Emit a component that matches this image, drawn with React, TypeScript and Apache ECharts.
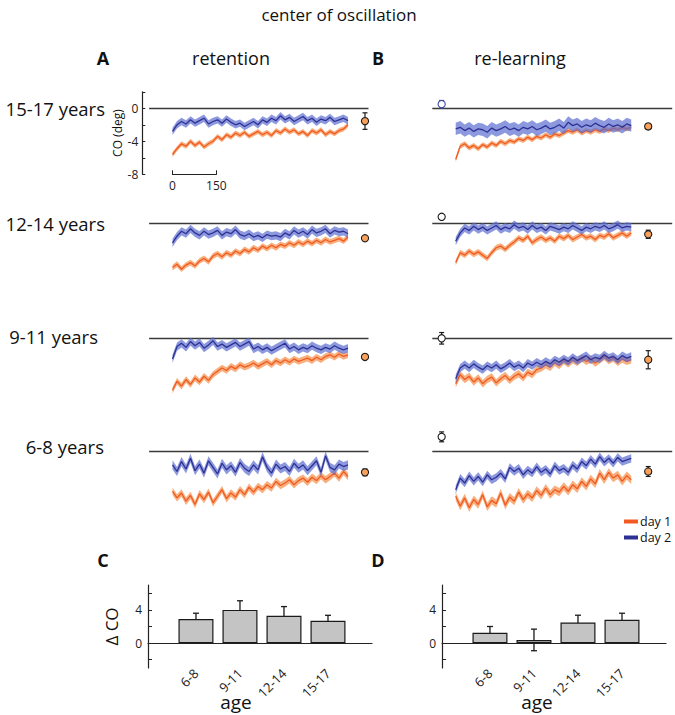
import React, { useEffect, useRef } from "react";
import * as echarts from "echarts";

// ---------- data ----------
const ageGroups = ["6-8", "9-11", "12-14", "15-17"];
const rowLabels = ["15-17 years", "12-14 years", "9-11 years", "6-8 years"];
const nTrials = 600;
const scaleBarTicks = [0, 150];

// retention (A), rows top→bottom: 15-17, 12-14, 9-11, 6-8
const ret15Day1 = [-5.6,-4.9,-4.3,-4.6,-4.0,-4.5,-4.1,-4.7,-4.3,-4.0,-3.4,-3.8,-3.2,-3.5,-3.0,-3.3,-2.9,-3.4,-3.1,-2.8,-3.2,-2.9,-3.3,-2.7,-3.0,-2.5,-2.9,-2.6,-3.1,-2.8,-3.3,-2.7,-3.0,-2.6,-3.2,-2.8,-3.1,-2.7,-2.5,-2.0];
const ret15Day2 = [-2.8,-2.0,-1.6,-1.9,-1.4,-1.8,-1.5,-1.2,-1.9,-1.6,-1.4,-1.8,-1.3,-1.7,-2.0,-1.8,-2.2,-1.9,-1.6,-2.0,-1.4,-1.7,-1.2,-1.5,-0.9,-1.4,-1.1,-1.6,-1.3,-1.0,-1.5,-1.2,-1.7,-1.3,-1.5,-1.1,-1.6,-1.4,-1.2,-1.5];
const ret12Day1 = [-5.4,-5.0,-5.6,-5.1,-4.8,-5.2,-4.6,-4.3,-4.7,-4.0,-3.7,-4.1,-3.6,-3.9,-3.4,-3.7,-3.2,-3.5,-3.0,-3.3,-2.8,-3.1,-2.7,-3.0,-2.6,-2.8,-2.4,-2.7,-2.3,-2.6,-2.2,-2.5,-2.1,-2.4,-2.0,-2.3,-2.1,-1.9,-2.2,-1.7];
const ret12Day2 = [-2.4,-1.6,-1.0,-1.3,-0.7,-1.2,-1.5,-1.0,-1.4,-1.2,-0.9,-1.5,-1.1,-1.3,-0.8,-1.4,-1.6,-1.3,-1.7,-1.5,-1.8,-1.4,-1.6,-1.5,-1.7,-1.2,-1.5,-0.9,-1.3,-1.0,-1.4,-0.8,-1.2,-1.0,-0.7,-1.3,-0.9,-1.1,-1.0,-1.3];
const ret9Day1 = [-6.3,-5.2,-5.8,-5.0,-5.6,-4.8,-5.3,-4.6,-5.1,-4.4,-4.0,-3.6,-3.9,-3.4,-3.7,-3.2,-3.5,-3.3,-3.0,-3.4,-3.1,-2.8,-3.2,-2.7,-3.0,-2.6,-2.9,-2.5,-2.8,-2.6,-2.4,-2.7,-2.3,-2.6,-2.2,-2.0,-2.3,-1.9,-2.2,-2.0];
const ret9Day2 = [-2.5,-1.0,-0.6,-1.1,-0.4,-0.9,-0.5,-1.2,-0.8,-0.3,-1.0,-0.7,-1.1,-0.8,-0.5,-1.0,-0.7,-0.4,-1.3,-1.0,-1.4,-1.1,-1.5,-1.2,-0.9,-0.6,-1.3,-1.0,-1.4,-1.1,-1.3,-0.9,-1.2,-1.4,-1.1,-1.3,-0.9,-1.2,-1.4,-1.2];
const ret6Day1 = [-4.8,-5.6,-5.0,-6.0,-5.3,-6.4,-5.1,-5.8,-4.9,-6.2,-5.4,-4.6,-5.7,-5.0,-5.5,-4.6,-5.2,-4.3,-4.9,-4.2,-4.6,-4.0,-4.4,-3.6,-4.1,-3.8,-3.4,-4.0,-3.5,-3.2,-3.7,-3.1,-3.5,-2.9,-3.4,-3.0,-2.6,-3.2,-2.4,-3.0];
const ret6Day2 = [-1.6,-2.4,-1.2,-2.1,-0.8,-2.3,-1.5,-2.6,-1.1,-1.9,-2.7,-1.4,-2.2,-1.7,-2.5,-1.3,-2.0,-2.4,-1.6,-2.2,-0.6,-1.9,-2.6,-1.5,-2.1,-1.8,-2.4,-1.4,-2.0,-1.6,-2.3,-1.7,-1.1,-2.5,-0.5,-1.9,-2.2,-1.5,-1.8,-1.6];

// re-learning (B)
const rel15Day1 = [-6.2,-4.6,-4.3,-4.8,-4.5,-4.9,-4.4,-4.7,-4.2,-4.5,-4.0,-4.3,-3.9,-4.1,-3.7,-3.9,-3.5,-3.8,-3.4,-3.6,-3.2,-3.5,-3.1,-3.3,-3.0,-2.7,-2.9,-2.6,-3.0,-2.7,-2.9,-2.6,-2.8,-2.5,-2.7,-2.4,-2.6,-2.3,-2.5,-2.3];
const rel15Day2 = [-2.5,-2.3,-2.7,-2.4,-2.8,-2.5,-2.6,-2.9,-2.4,-2.7,-2.5,-2.2,-2.6,-2.4,-2.7,-2.3,-2.5,-2.2,-2.6,-2.4,-2.1,-2.5,-2.3,-2.0,-2.4,-1.7,-2.1,-1.9,-2.3,-2.0,-2.2,-1.8,-2.1,-2.3,-1.9,-2.2,-2.0,-2.3,-1.9,-2.1];
const rel12Day1 = [-4.8,-3.6,-3.9,-3.4,-3.8,-3.5,-3.9,-4.3,-3.6,-3.0,-2.8,-3.2,-2.7,-2.3,-1.8,-2.1,-1.6,-2.4,-2.0,-1.7,-2.1,-1.8,-2.2,-1.6,-1.9,-1.5,-2.0,-1.7,-1.4,-1.8,-1.6,-2.0,-1.5,-1.7,-1.3,-1.8,-1.5,-1.2,-1.6,-1.2];
const rel12Day2 = [-2.2,-1.2,-0.6,-0.9,-0.4,-0.8,-0.5,-0.9,-0.6,-0.3,-0.8,-0.5,-0.7,-0.2,-0.6,-0.4,-0.8,-0.3,-0.7,-0.5,-0.9,-0.4,-0.6,-0.8,-0.5,-0.7,-0.3,-0.6,-0.9,-0.5,-0.7,-0.4,-0.6,-0.3,-0.7,-0.5,-0.2,-0.6,-0.4,-0.5];
const rel9Day1 = [-5.5,-4.4,-5.0,-4.6,-5.3,-4.8,-5.5,-5.0,-4.7,-5.4,-4.9,-4.5,-5.1,-4.6,-4.3,-4.8,-4.1,-4.4,-3.8,-3.6,-3.2,-3.5,-2.9,-3.3,-2.7,-3.1,-2.6,-2.9,-2.4,-2.8,-2.5,-3.0,-2.6,-2.2,-2.7,-2.4,-2.9,-2.5,-2.8,-2.6];
const rel9Day2 = [-4.9,-3.6,-3.2,-3.6,-3.1,-3.5,-3.8,-3.3,-3.6,-3.2,-3.7,-3.4,-3.0,-3.5,-3.2,-3.6,-3.0,-3.3,-2.9,-3.2,-2.8,-3.1,-2.6,-2.9,-2.5,-2.8,-2.3,-2.7,-2.4,-2.1,-2.6,-2.3,-2.5,-2.0,-2.4,-2.2,-2.6,-2.1,-2.4,-2.2];
const rel6Day1 = [-5.4,-6.6,-5.6,-6.8,-5.8,-6.4,-5.2,-6.7,-5.9,-6.3,-5.0,-6.5,-5.5,-6.0,-4.9,-5.8,-5.1,-5.6,-4.7,-5.3,-4.4,-5.2,-4.6,-4.9,-4.2,-4.8,-4.0,-4.5,-3.6,-4.2,-3.3,-3.9,-2.6,-3.4,-2.5,-3.2,-2.8,-3.6,-2.9,-3.4];
const rel6Day2 = [-4.6,-3.2,-3.8,-2.9,-3.6,-3.0,-3.7,-2.8,-3.4,-3.1,-2.6,-3.3,-1.9,-2.4,-2.0,-2.8,-2.2,-2.6,-1.8,-2.5,-2.1,-2.7,-1.7,-2.3,-2.0,-2.5,-1.6,-2.1,-1.2,-1.7,-0.9,-1.5,-0.6,-1.3,-0.8,-1.4,-0.7,-1.2,-1.0,-0.8];

// band half-widths (SEM), rows top→bottom
const retSemDay1 = [0.3, 0.35, 0.4, 0.45];
const retSemDay2 = [0.45, 0.5, 0.5, 0.55];
const relSemDay1 = [0.3, 0.35, 0.45, 0.5];
const relSemDay2 = [0.75, 0.5, 0.5, 0.5];

// summary points (rows top→bottom)
const retSummaryMean = [-1.55, -1.85, -2.26, -2.5];
const retSummaryErr = [1.0, 0.3, 0.2, 0.4];
const relSummaryMean = [-2.2, -1.37, -2.6, -2.4];
const relSummaryErr = [0.3, 0.5, 1.1, 0.6];
const relBaselineMean = [0.5, 0.75, 0.0, 1.8];
const relBaselineErr = [0.45, 0.12, 0.7, 0.6];
const summaryTrial = 658;
const baselineTrial = -48;

// bar panels (ΔCO), order = ageGroups
const deltaRetention = [2.9, 4.0, 3.3, 2.7];
const deltaRetentionErr = [0.7, 1.1, 1.1, 0.65];
const deltaRelearn = [1.25, 0.38, 2.48, 2.8];
const deltaRelearnErr = [0.75, 1.3, 0.88, 0.8];

// ---------- style / layout ----------
const FONT = "'Open Sans', 'Noto Sans', sans-serif";
const ORANGE = "#F15A22";
const ORANGE_BAND = "rgba(246,150,84,0.75)";
const BLUE = "#2E3192";
const BLUE_BAND = "rgba(92,110,210,0.7)";
const U = 8.25;
const rowZeroY = [108.3, 223, 338.3, 451.7];
const cols = [
  { left: 149.1, width: 219.4, min: -80, max: 670 },
  { left: 432.3, width: 239.9, min: -80, max: 740 },
];

function tx(i: number, n: number) {
  return (i * nTrials) / (n - 1);
}

function bandSeries(g: number, vals: number[], sem: number, color: string, z: number) {
  const data = vals.map((v, i) => [tx(i, vals.length), v]);
  return {
    type: "custom",
    xAxisIndex: g,
    yAxisIndex: g,
    silent: true,
    z,
    data,
    renderItem: (params: any, api: any) => {
      if (params.dataIndex !== 0) return null;
      const up = data.map((d) => api.coord([d[0], d[1] + sem]));
      const lo = data.map((d) => api.coord([d[0], d[1] - sem])).reverse();
      return { type: "polygon", shape: { points: up.concat(lo) }, style: { fill: color } };
    },
  };
}

function lineSeries(g: number, name: string, vals: number[], color: string, z: number, withZero: boolean) {
  const s: any = {
    type: "line",
    name,
    xAxisIndex: g,
    yAxisIndex: g,
    data: vals.map((v, i) => [tx(i, vals.length), v]),
    symbol: "none",
    lineStyle: { color, width: 1.3 },
    itemStyle: { color },
    silent: true,
    z,
  };
  if (withZero) {
    s.markLine = {
      silent: true,
      symbol: "none",
      label: { show: false },
      lineStyle: { color: "#3a3a3a", width: 1.4, type: "solid" },
      data: [{ yAxis: 0 }],
      z: 1,
    };
  }
  return s;
}

function pointSeries(g: number, x: number, mean: number, err: number, fill: string, stroke: string) {
  return {
    type: "custom",
    xAxisIndex: g,
    yAxisIndex: g,
    silent: true,
    z: 10,
    data: [[x, mean, err]],
    renderItem: (params: any, api: any) => {
      const xv = api.value(0), m = api.value(1), e = api.value(2);
      const c = api.coord([xv, m]);
      const t = api.coord([xv, m + e]);
      const b = api.coord([xv, m - e]);
      const w = 2.5;
      const ls = { stroke, lineWidth: 1.2 };
      return {
        type: "group",
        children: [
          { type: "line", shape: { x1: t[0], y1: t[1], x2: b[0], y2: b[1] }, style: ls },
          { type: "line", shape: { x1: t[0] - w, y1: t[1], x2: t[0] + w, y2: t[1] }, style: ls },
          { type: "line", shape: { x1: b[0] - w, y1: b[1], x2: b[0] + w, y2: b[1] }, style: ls },
          { type: "circle", shape: { cx: c[0], cy: c[1], r: 3.6 }, style: { fill, stroke, lineWidth: 1.1 } },
        ],
      };
    },
  };
}

function errBarSeries(g: number, means: number[], errs: number[]) {
  return {
    type: "custom",
    xAxisIndex: g,
    yAxisIndex: g,
    silent: true,
    z: 1,
    data: means.map((m, i) => [i + 1, m, errs[i]]),
    renderItem: (params: any, api: any) => {
      const xv = api.value(0), m = api.value(1), e = api.value(2);
      const t = api.coord([xv, m + e]);
      const b = api.coord([xv, m - e]);
      const w = 3;
      const ls = { stroke: "#1a1a1a", lineWidth: 1.3 };
      return {
        type: "group",
        children: [
          { type: "line", shape: { x1: t[0], y1: t[1], x2: b[0], y2: b[1] }, style: ls },
          { type: "line", shape: { x1: t[0] - w, y1: t[1], x2: t[0] + w, y2: t[1] }, style: ls },
          { type: "line", shape: { x1: b[0] - w, y1: b[1], x2: b[0] + w, y2: b[1] }, style: ls },
        ],
      };
    },
  };
}

function buildOption() {
  const grids: any[] = [];
  const xAxes: any[] = [];
  const yAxes: any[] = [];
  const series: any[] = [];

  const retention = [
    [ret15Day1, ret15Day2],
    [ret12Day1, ret12Day2],
    [ret9Day1, ret9Day2],
    [ret6Day1, ret6Day2],
  ];
  const relearn = [
    [rel15Day1, rel15Day2],
    [rel12Day1, rel12Day2],
    [rel9Day1, rel9Day2],
    [rel6Day1, rel6Day2],
  ];

  for (let col = 0; col < 2; col++) {
    for (let row = 0; row < 4; row++) {
      const g = grids.length;
      const c = cols[col];
      grids.push({
        left: c.left,
        width: c.width,
        top: rowZeroY[row] - 2 * U,
        height: 10 * U,
        outerBoundsMode: "none",
      });
      xAxes.push({ gridIndex: g, type: "value", min: c.min, max: c.max, show: false });
      const showY = col === 0 && row === 0;
      yAxes.push({
        gridIndex: g,
        type: "value",
        min: -8,
        max: 2,
        interval: 2,
        show: showY,
        offset: showY ? 6.8 : 0,
        name: showY ? "CO (deg)" : "",
        nameLocation: "middle",
        nameGap: 14,
        nameRotate: 90,
        nameTextStyle: { fontFamily: FONT, fontSize: 12, color: "#111" },
        axisLine: { show: true, onZero: false, lineStyle: { color: "#222", width: 1.2 } },
        axisTick: { show: true, inside: true, length: 3, lineStyle: { color: "#222" } },
        axisLabel: {
          fontFamily: FONT,
          fontSize: 12,
          color: "#222",
          margin: 4,
          formatter: (v: number) => (v % 4 === 0 ? String(v) : ""),
        },
        splitLine: { show: false },
      });
      const d = col === 0 ? retention[row] : relearn[row];
      const sem1 = col === 0 ? retSemDay1[row] : relSemDay1[row];
      const sem2 = col === 0 ? retSemDay2[row] : relSemDay2[row];
      series.push(bandSeries(g, d[0], sem1, ORANGE_BAND, 2));
      series.push(lineSeries(g, "day 1", d[0], ORANGE, 3, true));
      series.push(bandSeries(g, d[1], sem2, BLUE_BAND, 4));
      series.push(lineSeries(g, "day 2", d[1], BLUE, 5, false));
      if (col === 0) {
        series.push(pointSeries(g, summaryTrial, retSummaryMean[row], retSummaryErr[row], "#F7A15C", "#1a1a1a"));
      } else {
        series.push(pointSeries(g, summaryTrial, relSummaryMean[row], relSummaryErr[row], "#F7A15C", "#1a1a1a"));
        series.push(
          pointSeries(g, baselineTrial, relBaselineMean[row], relBaselineErr[row], "#ffffff", row === 0 ? "#3b4aa0" : "#1a1a1a")
        );
      }
    }
  }

  // scale bar (0–150 trials) under panel A top
  {
    const g = grids.length;
    const span = (150 / nTrials) * 175.5;
    grids.push({ left: 172.5, width: span, top: 173.3, height: 1, outerBoundsMode: "none" });
    xAxes.push({
      gridIndex: g,
      type: "value",
      min: scaleBarTicks[0],
      max: scaleBarTicks[1],
      interval: 150,
      axisLine: { show: true, lineStyle: { color: "#222", width: 1.2 } },
      axisTick: { show: true, inside: true, length: 4, lineStyle: { color: "#222" } },
      axisLabel: { fontFamily: FONT, fontSize: 12, color: "#222", margin: 5 },
      splitLine: { show: false },
    });
    yAxes.push({ gridIndex: g, type: "value", show: false, min: 0, max: 1 });
  }

  // bar panels C and D
  const barDefs = [
    { left: 148, vals: deltaRetention, errs: deltaRetentionErr, name: "Δ CO" },
    { left: 442, vals: deltaRelearn, errs: deltaRelearnErr, name: "" },
  ];
  barDefs.forEach((b) => {
    const g = grids.length;
    grids.push({ left: b.left, width: 224, top: 585, height: 83, outerBoundsMode: "none" });
    xAxes.push({
      gridIndex: g,
      type: "value",
      min: -0.09,
      max: 5.0,
      axisLine: { show: true, onZero: true, lineStyle: { color: "#222", width: 1.2 } },
      axisTick: { show: false },
      axisLabel: {
        customValues: [1, 2, 3, 4],
        formatter: (v: number) => ageGroups[Math.round(v) - 1] || "",
        rotate: 45,
        margin: 3,
        fontFamily: FONT,
        fontSize: 13,
        color: "#222",
      },
      splitLine: { show: false },
    });
    yAxes.push({
      gridIndex: g,
      type: "value",
      min: -3,
      max: 7,
      name: b.name,
      nameLocation: "middle",
      nameGap: 28,
      nameRotate: 90,
      nameTextStyle: { fontFamily: FONT, fontSize: 17, color: "#111" },
      axisLine: { show: true, onZero: false, lineStyle: { color: "#222", width: 1.2 } },
      axisTick: { show: true, inside: true, length: 4, customValues: [-2, 0, 2, 4, 6], lineStyle: { color: "#222" } },
      axisLabel: { customValues: [0, 4], fontFamily: FONT, fontSize: 12, color: "#222", margin: 6 },
      splitLine: { show: false },
    });
    series.push(errBarSeries(g, b.vals, b.errs));
    series.push({
      type: "bar",
      xAxisIndex: g,
      yAxisIndex: g,
      barWidth: 35,
      silent: true,
      z: 2,
      data: b.vals.map((v, i) => [i + 1, v]),
      itemStyle: { color: "#C4C4C4", borderColor: "#1a1a1a", borderWidth: 1.2 },
    });
  });

  const txt = (x: number, y: number, s: string, size: number, opts: any = {}) => ({
    type: "text",
    x,
    y,
    style: {
      text: s,
      fontFamily: FONT,
      fontSize: size,
      fill: "#111",
      textAlign: opts.align || "center",
      textVerticalAlign: "middle",
      fontWeight: opts.bold ? "bold" : "normal",
    },
  });

  const rowLabelRight = [105, 105, 98, 104];
  const rowLabelY = [108, 223, 336, 446];

  return {
    animation: false,
    grid: grids,
    xAxis: xAxes,
    yAxis: yAxes,
    series,
    legend: {
      data: ["day 1", "day 2"],
      orient: "vertical",
      left: 619,
      top: 509,
      icon: "rect",
      itemWidth: 14,
      itemHeight: 4,
      itemGap: 1,
      textStyle: { fontFamily: FONT, fontSize: 12.5, lineHeight: 15, color: "#111", padding: [0, 0, 0, -3] },
      selectedMode: false,
    },
    graphic: [
      txt(339, 14, "center of oscillation", 17),
      txt(103, 58, "A", 18, { bold: true }),
      txt(231, 58, "retention", 18),
      txt(378, 58, "B", 18, { bold: true }),
      txt(520, 58, "re-learning", 18),
      txt(103, 560, "C", 18, { bold: true }),
      txt(378, 560, "D", 18, { bold: true }),
      txt(236, 702, "age", 19),
      txt(537, 702, "age", 19),
      ...rowLabels.map((s, i) => txt(rowLabelRight[i], rowLabelY[i], s, 18.5, { align: "right" })),
    ],
  };
}

export default function App() {
  const ref = useRef<HTMLDivElement>(null);
  useEffect(() => {
    if (!ref.current) return;
    const chart = echarts.init(ref.current, undefined, { renderer: "svg" });
    chart.setOption(buildOption() as any);
    return () => chart.dispose();
  }, []);
  return (
    <div
      ref={ref}
      style={{ position: "absolute", left: 0, top: 0, width: 675, height: 715, background: "#fff" }}
    />
  );
}
